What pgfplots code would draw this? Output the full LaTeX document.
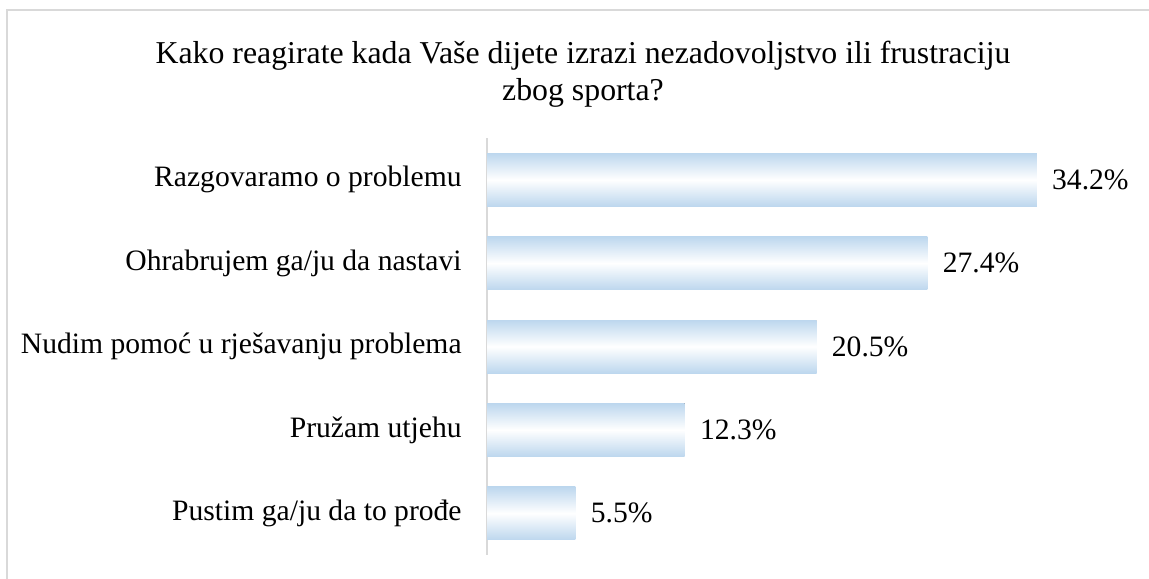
\documentclass[border=0pt]{standalone}
\usepackage{pgfplots}
\pgfplotsset{compat=1.18}
\usepackage{fontspec}
\setmainfont{Liberation Serif}
\definecolor{barblue}{RGB}{189,215,238}
\definecolor{framegray}{RGB}{217,217,217}
\begin{document}
\begin{tikzpicture}
\begin{scope}[x=0.5pt,y=-0.5pt]
\useasboundingbox (0,0) rectangle (1149,578);
\begin{scope}
\clip (0,0) rectangle (1149,578);
\draw[framegray, line width=1pt] (7,10) rectangle (1170,600);
\end{scope}
\node[anchor=base, inner sep=0pt, font=\fontsize{15.9}{18}\selectfont] at (583,63) {Kako reagirate kada Vaše dijete izrazi nezadovoljstvo ili frustraciju};
\node[anchor=base, inner sep=0pt, font=\fontsize{15.9}{18}\selectfont] at (583,100) {zbog sporta?};
\end{scope}
\begin{axis}[
  at={(243.5pt,-277.5pt)}, anchor=south west,
  width=321.5pt, height=208.5pt, scale only axis,
  xmin=0, xmax=40, ymin=-0.5, ymax=4.5, y dir=reverse,
  enlargelimits=false,
  xbar, bar width=26.5pt, bar shift=0pt,
  hide x axis,
  axis y line*=left,
  y axis line style={framegray, line width=1.1pt},
  ytick={0,1,2,3,4},
  yticklabels={Razgovaramo o problemu, Ohrabrujem ga/ju da nastavi, Nudim pomoć u rješavanju problema, Pružam utjehu, Pustim ga/ju da to prođe},
  major tick length=0pt,
  yticklabel style={font=\fontsize{14.8}{16}\selectfont, anchor=east, inner sep=0pt, xshift=-12.5pt},
  nodes near coords, point meta=explicit symbolic,
  nodes near coords style={anchor=west, inner sep=0pt, xshift=7.5pt, font=\fontsize{14.8}{16}\selectfont, text=black},
  every axis plot/.append style={draw=none, top color=barblue, bottom color=barblue, middle color=white},
  clip=false,
]
\addplot coordinates {(34.2,0) [34.2\%]};
\addplot coordinates {(27.4,1) [27.4\%]};
\addplot coordinates {(20.5,2) [20.5\%]};
\addplot coordinates {(12.3,3) [12.3\%]};
\addplot coordinates {(5.5,4) [5.5\%]};
\end{axis}
\end{tikzpicture}
\end{document}
